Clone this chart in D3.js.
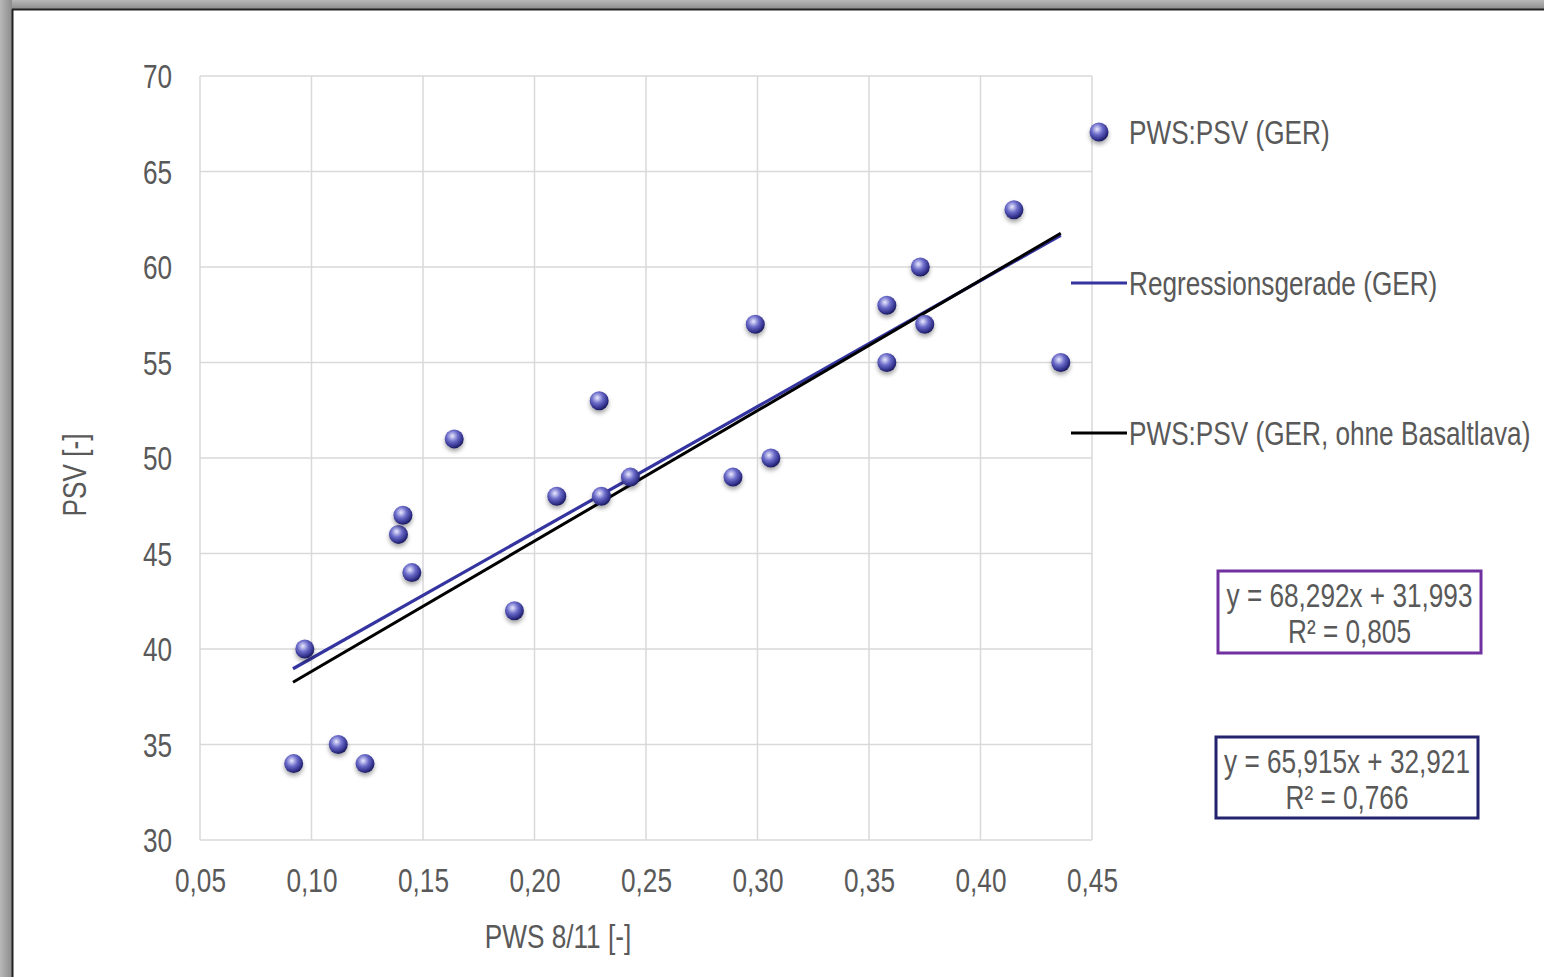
<!DOCTYPE html>
<html lang="de">
<head>
  <meta charset="UTF-8">
  <title>PWS:PSV</title>
  <style>
    body { margin: 0; background: #fff; }
    text { font-family: "Liberation Sans", Arial, sans-serif; fill: #595959; }
  </style>
</head>
<body>
  <svg width="1544" height="977"></svg>
  <script src="https://cdn.jsdelivr.net/npm/d3@7/dist/d3.min.js"></script>
  <script>
    // PWS 8/11 values and matching PSV values
    var pws = [0.092, 0.097, 0.112, 0.124, 0.139, 0.141, 0.145, 0.164, 0.191, 0.210, 0.229, 0.230, 0.243,
               0.289, 0.299, 0.306, 0.358, 0.358, 0.373, 0.375, 0.415, 0.436]
    var psv = [34, 40, 35, 34, 46, 47, 44, 51, 42, 48, 53, 48, 49,
               49, 57, 50, 58, 55, 60, 57, 63, 55]

    var xTicks = [0.05, 0.10, 0.15, 0.20, 0.25, 0.30, 0.35, 0.40, 0.45]
    var yTicks = [30, 35, 40, 45, 50, 55, 60, 65, 70]

    // trend lines: [slope, intercept]
    var fitAll = [65.915, 32.921]
    var fitNoBasalt = [68.292, 31.993]
    var fitRange = [0.0917, 0.436]

    var FS = 34       // font size
    var SX = 0.77     // narrow the font horizontally

    var svg = d3.select('svg')
    var defs = svg.append('defs')

    var grad = defs.append('radialGradient').attr('id', 'ball')
      .attr('cx', '40%').attr('cy', '35%').attr('r', '65%')
    grad.append('stop').attr('offset', '0%').attr('stop-color', '#eaeaff')
    grad.append('stop').attr('offset', '45%').attr('stop-color', '#6c6cca')
    grad.append('stop').attr('offset', '85%').attr('stop-color', '#30308a')
    grad.append('stop').attr('offset', '100%').attr('stop-color', '#1c1c5c')

    var shadow = defs.append('filter').attr('id', 'shadow')
      .attr('x', '-50%').attr('y', '-50%').attr('width', '200%').attr('height', '200%')
    shadow.append('feDropShadow').attr('dx', 0).attr('dy', 3).attr('stdDeviation', 2)
      .attr('flood-color', '#000').attr('flood-opacity', 0.35)

    var topGrad = defs.append('linearGradient').attr('id', 'frameTop')
      .attr('x1', 0).attr('y1', 0).attr('x2', 0).attr('y2', 1)
    topGrad.append('stop').attr('offset', '0%').attr('stop-color', '#b8b8b8')
    topGrad.append('stop').attr('offset', '100%').attr('stop-color', '#8c8c8c')
    var leftGrad = defs.append('linearGradient').attr('id', 'frameLeft')
      .attr('x1', 0).attr('y1', 0).attr('x2', 1).attr('y2', 0)
    leftGrad.append('stop').attr('offset', '0%').attr('stop-color', '#b8b8b8')
    leftGrad.append('stop').attr('offset', '100%').attr('stop-color', '#8c8c8c')

    // frame
    svg.append('rect').attr('x', 0).attr('y', 0).attr('width', 1544).attr('height', 9).attr('fill', 'url(#frameTop)')
    svg.append('rect').attr('x', 0).attr('y', 0).attr('width', 12).attr('height', 977).attr('fill', 'url(#frameLeft)')
    svg.append('line').attr('x1', 12).attr('x2', 1544).attr('y1', 9.5).attr('y2', 9.5).attr('stroke', '#222').attr('stroke-width', 2)
    svg.append('line').attr('x1', 12.5).attr('x2', 12.5).attr('y1', 9).attr('y2', 977).attr('stroke', '#222').attr('stroke-width', 2)

    var x = d3.scaleLinear().domain([0.05, 0.45]).range([200, 1092])
    var y = d3.scaleLinear().domain([30, 70]).range([840, 76])

    // grid
    var grid = svg.append('g')
    grid.selectAll('.vx').data(xTicks).enter().append('line')
      .attr('x1', function(d) { return x(d) }).attr('x2', function(d) { return x(d) })
      .attr('y1', y(30)).attr('y2', y(70))
      .attr('stroke', '#d9d9d9').attr('stroke-width', 1.5)
    grid.selectAll('.hy').data(yTicks).enter().append('line')
      .attr('y1', function(d) { return y(d) }).attr('y2', function(d) { return y(d) })
      .attr('x1', x(0.05)).attr('x2', x(0.45))
      .attr('stroke', '#d9d9d9').attr('stroke-width', 1.5)

    var fmt = function(d) { return d3.format('.2f')(d).replace('.', ',') }

    // axes
    var xAxis = svg.append('g').attr('transform', 'translate(0,' + y(30) + ')')
      .call(d3.axisBottom(x).tickValues(xTicks).tickSize(0).tickPadding(40).tickFormat(fmt))
    var yAxis = svg.append('g').attr('transform', 'translate(' + x(0.05) + ',0)')
      .call(d3.axisLeft(y).tickValues(yTicks).tickSize(0).tickPadding(28 / SX))
    svg.selectAll('.domain').remove()
    svg.selectAll('.tick text').attr('font-size', FS).style('font-family', null)
      .attr('dy', '0.35em').attr('transform', 'scale(' + SX + ',1)')

    // plain text helper, narrowed
    function label(tx, ty, str, anchor, rot) {
      return svg.append('text')
        .attr('transform', 'translate(' + tx + ',' + ty + ')' + (rot ? ' rotate(' + rot + ')' : '') + ' scale(' + SX + ',1)')
        .attr('text-anchor', anchor || 'start')
        .attr('font-size', FS)
        .text(str)
    }

    label(558, 948, 'PWS 8/11 [-]', 'middle')
    label(86, 475, 'PSV [-]', 'middle', -90)

    // trend lines
    var line = d3.line().x(function(d) { return x(d[0]) }).y(function(d) { return y(d[1]) })
    function fitPts(f) { return fitRange.map(function(v) { return [v, f[0] * v + f[1]] }) }
    svg.append('path').attr('d', line(fitPts(fitAll))).attr('stroke', '#3434a0').attr('stroke-width', 3.2).attr('fill', 'none')
    svg.append('path').attr('d', line(fitPts(fitNoBasalt))).attr('stroke', '#000').attr('stroke-width', 3).attr('fill', 'none')

    // points
    svg.append('g').selectAll('circle').data(pws).enter().append('circle')
      .attr('cx', function(d) { return x(d) })
      .attr('cy', function(d, i) { return y(psv[i]) })
      .attr('r', 9.5)
      .attr('fill', 'url(#ball)')
      .attr('filter', 'url(#shadow)')

    // legend
    svg.append('circle').attr('cx', 1099).attr('cy', 132).attr('r', 9.5).attr('fill', 'url(#ball)').attr('filter', 'url(#shadow)')
    label(1129, 144, 'PWS:PSV (GER)')
    svg.append('line').attr('x1', 1071).attr('x2', 1127).attr('y1', 283).attr('y2', 283).attr('stroke', '#3434a0').attr('stroke-width', 3)
    label(1129, 295, 'Regressionsgerade (GER)')
    svg.append('line').attr('x1', 1071).attr('x2', 1127).attr('y1', 433).attr('y2', 433).attr('stroke', '#000').attr('stroke-width', 3)
    label(1129, 445, 'PWS:PSV (GER, ohne Basaltlava)')

    // equation boxes
    function eqBox(bx, by, w, h, color, f, r2) {
      svg.append('rect').attr('x', bx).attr('y', by).attr('width', w).attr('height', h)
        .attr('fill', '#fff').attr('stroke', color).attr('stroke-width', 3)
      label(bx + w / 2, by + 36, 'y = ' + f[0].toFixed(3).replace('.', ',') + 'x + ' + f[1].toFixed(3).replace('.', ','), 'middle')
      label(bx + w / 2, by + 72, 'R² = ' + r2.toFixed(3).replace('.', ','), 'middle')
    }
    eqBox(1218, 571, 263, 82, '#7030a0', fitNoBasalt, 0.805)
    eqBox(1216, 737, 262, 81, '#23236e', fitAll, 0.766)
  </script>
</body>
</html>
